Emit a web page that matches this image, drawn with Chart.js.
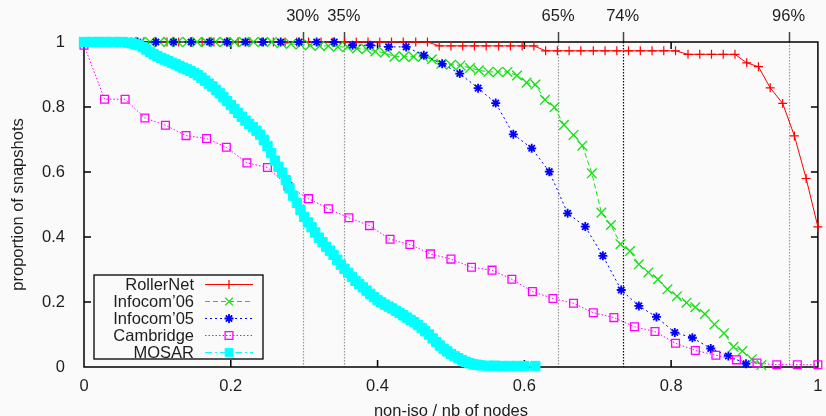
<!DOCTYPE html>
<html>
<head>
<meta charset="utf-8">
<title>proportion of snapshots</title>
<script src="https://cdn.jsdelivr.net/npm/chart.js@4.4.0/dist/chart.umd.min.js"></script>
<style>
  html, body { margin: 0; padding: 0; background: #fafafa; }
  #wrap { width: 826px; height: 416px; }
</style>
</head>
<body>
<div id="wrap"><canvas id="canvas_graph" width="826" height="416"></canvas></div>
<script>
/** DATA
 * x : non-iso / nb of nodes
 * y : proportion of snapshots
 */

const roller_x = [
    0, .016, .032, .048, .065, .081, .097, .113, .129, .145,
    .161, .177, .194, .210, .226, .242, .258, .274, .290, .306,
    .323, .339, .355, .371, .387, .403, .419, .435, .452, .468,
    .484, .500, .516, .532, .548, .565, .581, .597, .613, .629,
    .645, .661, .677, .694, .710, .726, .742, .758, .774, .790,
    .806, .823, .839, .855, .871, .887, .903, .919, .935, .952,
    .968, .984, 1
];
const roller_y = [
    1, 1, 1, 1, 1, 1, 1, 1, 1, 1,
    1, 1, 1, 1, 1, 1, 1, 1, 1, 1,
    1, 1, 1, 1, 1, 1, 1, 1, 1, 1,
    .988, .988, .988, .988, .988, .988, .988, .988, .988, .973,
    .973, .973, .973, .973, .973, .973, .973, .973, .973, .973,
    .973, .962, .962, .962, .962, .962, .936, .924, .859, .811,
    .711, .58, .431
];

const infocom06_x = [
    0, .013, .026, .038, .051, .064, .077, .090, .103, .115,
    .128, .141, .154, .167, .179, .192, .205, .218, .231, .244,
    .256, .269, .282, .295, .308, .321, .333, .346, .359, .372,
    .385, .397, .410, .423, .436, .449, .462, .474, .487, .500,
    .513, .526, .538, .551, .564, .577, .590, .603, .615, .628,
    .641, .654, .667, .679, .692, .705, .718, .731, .744, .756,
    .769, .782, .795, .808, .821, .833, .846, .859, .872, .885,
    .897, .910, .923
];
const infocom06_y = [
    1, 1, 1, 1, 1, 1, 1, 1, 1, 1,
    1, 1, 1, 1, 1, 1, 1, 1, 1, 1,
    1, .996, .994, .992, .99, .988, .988, .985, .985, .98,
    .978, .971, .967, .955, .955, .955, .955, .947, .933, .93,
    .928, .92, .913, .908, .908, .908, .897, .875, .869, .822,
    .799, .745, .714, .681, .596, .475, .437, .378, .357, .316,
    .291, .27, .239, .218, .198, .184, .163, .131, .104, .062,
    .049, .024, .006
];

const infocom05_x = [
    0, .024, .049, .073, .098, .122, .146, .171, .195, .220,
    .244, .268, .293, .317, .341, .366, .390, .415, .439, .463,
    .488, .512, .537, .561, .585, .610, .634, .659, .683, .707,
    .732, .756, .780, .805, .829, .854, .878, .902
];
const infocom05_y = [
    1, 1, 1, 1, 1, 1, 1, 1, 1, 1,
    1, 1, 1, 1, 1, .99, .99, .985, .985, .959,
    .933, .903, .858, .812, .716, .673, .601, .473, .432, .342,
    .237, .188, .154, .106, .09, .057, .034, .01
];

const cambridge_x = [
    0, .028, .056, .083, .111, .139, .167, .194, .222, .250,
    .278, .306, .333, .361, .389, .417, .444, .472, .500, .528,
    .556, .583, .611, .639, .667, .694, .722, .750, .778, .806,
    .833, .861, .889, .917, .944, .972, 1
];
const cambridge_y = [
    .99, .824, .824, .766, .744, .712, .703, .676, .628, .614,
    .556, .518, .487, .459, .435, .393, .377, .348, .332, .307,
    .298, .27, .232, .211, .196, .167, .152, .124, .109, .073,
    .051, .036, .022, .012, .007, .007, .007
];

const mosar_x = [
    0, .01, .02, .03, .04, .05, .06, .065, .07, .075,
    .08, .085, .09, .095, .10, .105, .11, .115, .12, .125,
    .13, .135, .14, .145, .15, .155, .16, .165, .17, .175,
    .18, .185, .19, .195, .20, .205, .21, .215, .22, .225,
    .23, .235, .24, .245, .25, .255, .26, .265, .27, .275,
    .28, .285, .29, .295, .30, .305, .31, .315, .32, .325,
    .33, .335, .34, .345, .35, .355, .36, .365, .37, .375,
    .38, .385, .39, .395, .40, .405, .41, .415, .42, .425,
    .43, .435, .44, .445, .45, .455, .46, .465, .47, .475,
    .48, .485, .49, .495, .50, .505, .51, .515, .52, .525,
    .53, .535, .54, .55, .56, .57, .58, .59, .60, .615
];
const mosar_y = [
    1, 1, 1, 1, 1, 1, .998, .996, .993, .99,
    .984, .977, .969, .962, .956, .951, .946, .941, .936, .931,
    .926, .921, .916, .911, .905, .898, .89, .881, .872, .863,
    .853, .842, .83, .818, .806, .794, .782, .77, .758, .748,
    .738, .727, .715, .699, .68, .658, .635, .616, .598, .575,
    .55, .527, .505, .483, .462, .445, .43, .414, .398, .384,
    .37, .358, .345, .33, .315, .302, .29, .277, .265, .255,
    .245, .235, .225, .215, .206, .199, .192, .186, .18, .173,
    .166, .159, .152, .145, .138, .129, .12, .11, .1, .088,
    .077, .066, .056, .048, .04, .033, .027, .021, .016, .012,
    .009, .007, .005, .004, .004, .003, .003, .003, .003, .003
];

// vertical markers on top axis
const marker_values = [0.298, 0.354, 0.646, 0.734, 0.960];
const marker_labels = ['30%', '35%', '65%', '74%', '96%'];
const axis_ticks = [0, 0.2, 0.4, 0.6, 0.8, 1];

const series = [
    {label: 'RollerNet', xs: roller_x, ys: roller_y},
    {label: 'Infocom\u201906', xs: infocom06_x, ys: infocom06_y},
    {label: 'Infocom\u201905', xs: infocom05_x, ys: infocom05_y},
    {label: 'Cambridge', xs: cambridge_x, ys: cambridge_y},
    {label: 'MOSAR', xs: mosar_x, ys: mosar_y},
];

/** STYLES */
const styles = [
    {color: '#ff0000', fill: '#ff0000', dash: [], point: 'cross', radius: 4.5, pw: 1.2},
    {color: '#11e011', fill: '#11e011', dash: [5, 3], point: 'crossRot', radius: 6.8, pw: 1.3},
    {color: '#0000ff', fill: '#0000ff', dash: [2, 3], point: 'star', radius: 4.5, pw: 1.8},
    {color: '#ff00ff', fill: 'rgba(0,0,0,0)', dash: [1.5, 2], point: 'rect', radius: 5.5, pw: 1.3},
    {color: '#00ffff', fill: '#00ffff', dash: [7, 3, 2, 3], point: 'rect', radius: 6.6, pw: 1},
];
const marker_line_colors = ['#999', '#999', '#999', '#111', '#999'];
const text_color = '#1e1e1e';
const font_family = '"Liberation Sans", Arial, Helvetica, sans-serif';
const tick_font = {family: font_family, size: 16.5};

let toPoints = (xs, ys) => xs.map((x, i) => ({x: x, y: ys[i]}));

// small marker painter for the legend samples
let drawMarker = (ctx, st, x, y, r) => {
    const d = r * Math.SQRT1_2;
    ctx.beginPath();
    if (st.point === 'cross' || st.point === 'star') {
        ctx.moveTo(x - r, y); ctx.lineTo(x + r, y);
        ctx.moveTo(x, y - r); ctx.lineTo(x, y + r);
    }
    if (st.point === 'crossRot' || st.point === 'star') {
        ctx.moveTo(x - d, y - d); ctx.lineTo(x + d, y + d);
        ctx.moveTo(x - d, y + d); ctx.lineTo(x + d, y - d);
    }
    if (st.point === 'rect') {
        ctx.rect(x - d, y - d, 2 * d, 2 * d);
        ctx.fillStyle = st.fill;
        ctx.fill();
    }
    ctx.lineWidth = st.pw;
    ctx.strokeStyle = st.color;
    ctx.stroke();
}

const frame_plugin = {
    id: 'frame_plugin',
    beforeDraw: (chart) => {
        const ctx = chart.ctx;
        ctx.save();
        ctx.fillStyle = '#fafafa';
        ctx.fillRect(0, 0, chart.width, chart.height);
        ctx.restore();
    },
    beforeDatasetsDraw: (chart) => {
        const {ctx, chartArea: a, scales} = chart;
        ctx.save();
        // dotted percent lines + outer stubs
        marker_values.forEach((v, i) => {
            const px = Math.round(scales.x.getPixelForValue(v)) + 0.5;
            ctx.strokeStyle = marker_line_colors[i];
            ctx.lineWidth = 1.2;
            ctx.setLineDash([1.5, 1.5]);
            ctx.beginPath();
            ctx.moveTo(px, a.top);
            ctx.lineTo(px, a.bottom);
            ctx.stroke();
            ctx.setLineDash([]);
            ctx.strokeStyle = '#444';
            ctx.lineWidth = 1.5;
            ctx.beginPath();
            ctx.moveTo(px, a.top - 10);
            ctx.lineTo(px, a.top);
            ctx.stroke();
        });
        // frame
        ctx.strokeStyle = '#000';
        ctx.lineWidth = 1.5;
        ctx.strokeRect(a.left, a.top, a.right - a.left, a.bottom - a.top);
        // inward ticks, mirrored
        ctx.beginPath();
        axis_ticks.slice(1, -1).forEach(v => {
            const px = scales.x.getPixelForValue(v);
            const py = scales.y.getPixelForValue(v);
            ctx.moveTo(px, a.bottom); ctx.lineTo(px, a.bottom - 7);
            ctx.moveTo(px, a.top); ctx.lineTo(px, a.top + 7);
            ctx.moveTo(a.left, py); ctx.lineTo(a.left + 7, py);
            ctx.moveTo(a.right, py); ctx.lineTo(a.right - 7, py);
        });
        ctx.stroke();
        ctx.restore();
    },
    afterDatasetsDraw: (chart) => {
        const {ctx, chartArea: a} = chart;
        const box = {left: a.left + 10, right: a.left + 179, bottom: a.bottom - 8, top: a.bottom - 92};
        ctx.save();
        ctx.fillStyle = '#fafafa';
        ctx.fillRect(box.left, box.top, box.right - box.left, box.bottom - box.top);
        ctx.strokeStyle = '#000';
        ctx.lineWidth = 1.3;
        ctx.strokeRect(box.left, box.top, box.right - box.left, box.bottom - box.top);
        ctx.font = '16.5px ' + font_family;
        ctx.textAlign = 'right';
        ctx.textBaseline = 'middle';
        series.forEach((s, i) => {
            const st = styles[i];
            const y = box.top + 9.5 + i * 17;
            ctx.fillStyle = text_color;
            ctx.fillText(s.label, box.left + 100, y + 1);
            ctx.strokeStyle = st.color;
            ctx.lineWidth = 1;
            ctx.setLineDash(st.dash);
            ctx.beginPath();
            ctx.moveTo(box.left + 111, y);
            ctx.lineTo(box.left + 159, y);
            ctx.stroke();
            ctx.setLineDash([]);
            drawMarker(ctx, st, box.left + 135, y, Math.min(st.radius, 5.5));
        });
        ctx.restore();
    }
};

const data = {
    datasets: series.map((s, i) => ({
        label: s.label,
        data: toPoints(s.xs, s.ys),
        borderColor: styles[i].color,
        backgroundColor: styles[i].fill,
        borderWidth: 1,
        borderDash: styles[i].dash,
        pointStyle: styles[i].point,
        pointRadius: styles[i].radius,
        pointHoverRadius: styles[i].radius,
        pointBorderWidth: styles[i].pw,
        pointBackgroundColor: styles[i].fill,
        pointBorderColor: styles[i].color,
        order: series.length - i,
        clip: false,
        tension: 0
    }))
};

const config = {
    type: 'line',
    data: data,
    plugins: [frame_plugin],
    options: {
        responsive: false,
        animation: false,
        devicePixelRatio: 1,
        layout: {padding: {left: 0, right: 4, top: 0, bottom: 0}},
        plugins: {legend: {display: false}, tooltip: {enabled: false}},
        scales: {
            x: {
                type: 'linear', position: 'bottom', min: 0, max: 1,
                afterBuildTicks: s => { s.ticks = axis_ticks.map(v => ({value: v})); },
                afterFit: s => { s.height = 49; s.paddingLeft = 0; s.paddingRight = 0; },
                ticks: {padding: 2, color: text_color, font: tick_font, maxRotation: 0, autoSkip: false,
                        callback: v => String(v)},
                grid: {display: false},
                border: {display: false},
                title: {display: true, text: 'non-iso / nb of nodes', color: text_color,
                        font: {family: font_family, size: 16.5, lineHeight: 0.55}, padding: {top: 0, bottom: 0}}
            },
            x2: {
                type: 'linear', axis: 'x', position: 'top', min: 0, max: 1,
                afterBuildTicks: s => { s.ticks = marker_values.map(v => ({value: v})); },
                afterFit: s => { s.height = 42; s.paddingLeft = 0; s.paddingRight = 0; },
                ticks: {padding: 8, color: text_color, font: tick_font, maxRotation: 0, autoSkip: false,
                        callback: (v, i) => marker_labels[i]},
                grid: {display: false},
                border: {display: false}
            },
            y: {
                type: 'linear', position: 'left', min: 0, max: 1,
                afterBuildTicks: s => { s.ticks = axis_ticks.map(v => ({value: v})); },
                afterFit: s => { s.width = 84; s.paddingTop = 0; s.paddingBottom = 0; },
                ticks: {padding: 11, color: text_color, font: tick_font, autoSkip: false,
                        callback: v => String(v)},
                grid: {display: false},
                border: {display: false},
                title: {display: true, text: 'proportion of snapshots', color: text_color,
                        font: {family: font_family, size: 16.5}, padding: {top: 9, bottom: 0}}
            }
        }
    }
};

let graph = new Chart(document.getElementById('canvas_graph'), config);
</script>
</body>
</html>
